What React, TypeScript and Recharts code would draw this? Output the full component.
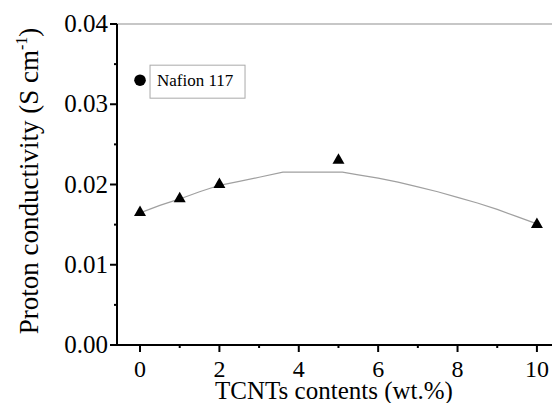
import React from 'react';
import { ComposedChart, Line, Scatter, XAxis, YAxis, ReferenceLine } from 'recharts';

const contents = [0, 1, 2, 5, 10];
const conductivity = [0.0167, 0.0184, 0.0202, 0.0232, 0.0152];

const fitX = [0, 0.5, 1, 1.5, 2, 2.5, 3, 3.6, 4, 4.5, 5.1, 5.5, 6, 6.5, 7, 7.5, 8, 8.5, 9, 9.5, 10];
const fitY = [0.01647, 0.0174, 0.0182, 0.0191, 0.0199, 0.0204, 0.0209, 0.02153, 0.02153, 0.02153, 0.02153, 0.0212, 0.0208, 0.0203, 0.0197, 0.0191, 0.0184, 0.0177, 0.0169, 0.0160, 0.0151];

const nafionX = [0];
const nafionY = [0.033];
const nafionLabel = 'Nafion 117';

const xTicks = [0, 1, 2, 3, 4, 5, 6, 7, 8, 9, 10];
const yTicks = [0, 0.005, 0.01, 0.015, 0.02, 0.025, 0.03, 0.035, 0.04];

const FONT = "'Liberation Serif', 'DejaVu Serif', serif";
const txt = (size: number): React.CSSProperties => ({ fontFamily: FONT, fontSize: size });

const measured = contents.map((x, i) => ({ x, y: conductivity[i] }));
const fit = fitX.map((x, i) => ({ x, y: fitY[i] }));
const nafion = nafionX.map((x, i) => ({ x, y: nafionY[i] }));

const XTick = (props: any) => {
  const { x, y, payload } = props;
  const v = payload.value;
  const major = Math.round(v) % 2 === 0;
  return (
    <g>
      <line x1={x} x2={x} y1={y} y2={y + (major ? 7 : 3)} stroke="#000" strokeWidth={2} />
      {major && (
        <text x={x} y={y + 32} textAnchor="middle" style={txt(24)} fill="#000">
          {String(v)}
        </text>
      )}
    </g>
  );
};

const YTick = (props: any) => {
  const { x, y, payload } = props;
  const v = payload.value;
  const major = Math.round(v * 1000) % 10 === 0;
  return (
    <g>
      <line x1={x} x2={x - (major ? 7 : 3)} y1={y} y2={y} stroke="#000" strokeWidth={2} />
      {major && (
        <text x={x - 9} y={y + 8} textAnchor="end" style={txt(25)} fill="#000">
          {v.toFixed(2)}
        </text>
      )}
    </g>
  );
};

const TriangleShape = (props: any) => {
  const { cx, cy } = props;
  return <polygon points={`${cx},${cy - 5.5} ${cx + 6},${cy + 5} ${cx - 6},${cy + 5}`} fill="#000" />;
};

const NafionShape = (props: any) => {
  const { cx, cy } = props;
  return (
    <g>
      <circle cx={cx} cy={cy} r={5.8} fill="#000" />
      <rect x={cx + 10} y={cy - 15} width={95} height={33} fill="#fff" stroke="#aaa" strokeWidth={1} />
      <text x={cx + 17} y={cy + 6} style={txt(17)} fill="#000">
        {nafionLabel}
      </text>
    </g>
  );
};

export default function App() {
  return (
    <div style={{ position: 'absolute', left: 0, top: 0, width: 552, height: 403, background: '#fff' }}>
      <ComposedChart width={552} height={403} margin={{ top: 24, right: 0, bottom: 0, left: 0 }}>
        <XAxis
          type="number"
          dataKey="x"
          domain={[-0.58, 10.38]}
          allowDataOverflow
          ticks={xTicks}
          interval={0}
          tickSize={0}
          tickMargin={0}
          tickLine={false}
          tick={<XTick />}
          axisLine={{ stroke: '#000', strokeWidth: 2 }}
          height={58}
          label={{
            content: () => (
              <text x={334} y={399} textAnchor="middle" style={txt(25)} fill="#000">
                TCNTs contents (wt.%)
              </text>
            ),
          }}
        />
        <YAxis
          type="number"
          domain={[0, 0.04]}
          allowDataOverflow
          ticks={yTicks}
          interval={0}
          tickSize={0}
          tickMargin={0}
          tickLine={false}
          tick={<YTick />}
          axisLine={{ stroke: '#000', strokeWidth: 2 }}
          width={117}
          label={{
            content: () => (
              <text
                x={38}
                y={181}
                transform="rotate(-90, 38, 181)"
                textAnchor="middle"
                style={txt(27)}
                fill="#000"
              >
                Proton conductivity (S cm
                <tspan style={{ fontSize: 16 }} dy={-11}>-1</tspan>
                <tspan dy={11}>)</tspan>
              </text>
            ),
          }}
        />
        <ReferenceLine y={0.04} stroke="#b5b5b5" strokeWidth={1.5} />
        <Line
          data={fit}
          dataKey="y"
          type="linear"
          stroke="#a0a0a0"
          strokeWidth={1.2}
          dot={false}
          activeDot={false}
          isAnimationActive={false}
        />
        <Scatter data={measured} dataKey="y" shape={<TriangleShape />} isAnimationActive={false} />
        <Scatter data={nafion} dataKey="y" shape={<NafionShape />} isAnimationActive={false} />
      </ComposedChart>
    </div>
  );
}
